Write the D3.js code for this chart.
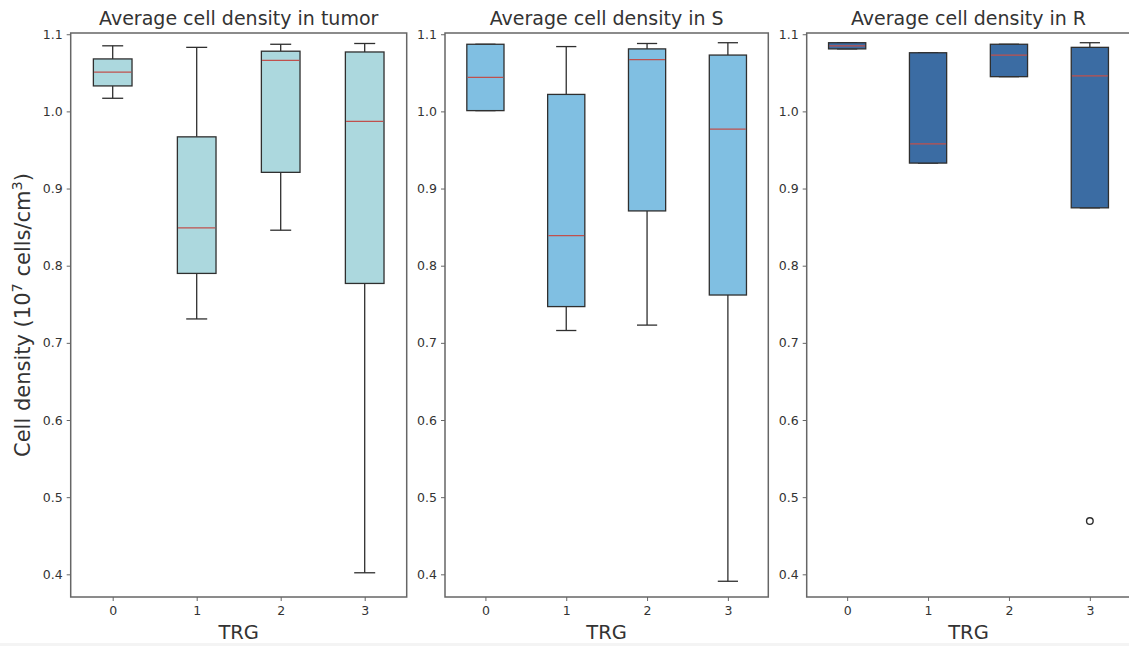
<!DOCTYPE html>
<html>
<head>
<meta charset="utf-8">
<script src="https://cdn.jsdelivr.net/npm/d3@7"></script>
<style>
  html, body { margin: 0; padding: 0; background: #ffffff; }
  svg { display: block; font-family: "DejaVu Sans", sans-serif; }
</style>
</head>
<body>
<svg id="chart" width="1129" height="646"></svg>
<script>
// TRG groups on the x axis
const trgGroups = [0, 1, 2, 3];
const yTicks = [0.4, 0.5, 0.6, 0.7, 0.8, 0.9, 1.0, 1.1];

// Box statistics per TRG group: [lower whisker, Q1, median, Q3, upper whisker]
const tumorStats = [
  [1.017, 1.033, 1.051, 1.068, 1.085],
  [0.731, 0.790, 0.849, 0.967, 1.083],
  [0.846, 0.921, 1.066, 1.078, 1.087],
  [0.402, 0.777, 0.987, 1.077, 1.088]
];
const sStats = [
  [1.001, 1.001, 1.044, 1.087, 1.087],
  [0.716, 0.747, 0.839, 1.022, 1.084],
  [0.723, 0.871, 1.067, 1.081, 1.088],
  [0.391, 0.762, 0.977, 1.073, 1.089]
];
const rStats = [
  [1.081, 1.081, 1.085, 1.089, 1.089],
  [0.933, 0.933, 0.958, 1.076, 1.076],
  [1.045, 1.045, 1.073, 1.087, 1.087],
  [0.875, 0.875, 1.046, 1.083, 1.089]
];
// Points beyond the whiskers: [TRG group, value]
const tumorOutliers = [];
const sOutliers = [];
const rOutliers = [[3, 0.469]];

const panelTitles = [
  "Average cell density in tumor",
  "Average cell density in S",
  "Average cell density in R"
];
const panelFills = ["#acd8de", "#80bfe2", "#3b6ca3"];

const panels = [
  { title: panelTitles[0], stats: tumorStats, outliers: tumorOutliers, fill: panelFills[0], x0: 70.7, x1: 406.7 },
  { title: panelTitles[1], stats: sStats, outliers: sOutliers, fill: panelFills[1], x0: 445, x1: 768.3 },
  { title: panelTitles[2], stats: rStats, outliers: rOutliers, fill: panelFills[2], x0: 806.7, x1: 1130.3 }
];

const plotTop = 33, plotBottom = 597;
const boxWidth = 0.46, capWidth = 0.25;
const edge = "#2f2f2f", spine = "#666666", medianColor = "#c0504d", textColor = "#333333";

const svg = d3.select("#chart");
svg.append("rect").attr("x", 0).attr("y", 643).attr("width", 1129).attr("height", 3).attr("fill", "#f4f4f4");

const y = d3.scaleLinear().domain([0.3706, 1.1016]).range([plotBottom, plotTop]);

panels.forEach(p => {
  const x = d3.scaleLinear().domain([-0.5, 3.5]).range([p.x0, p.x1]);
  const g = svg.append("g");

  // boxes
  p.stats.forEach((s, i) => {
    const [lo, q1, med, q3, hi] = s;
    const cx = x(trgGroups[i]);
    const bw = x(boxWidth) - x(0);
    const cw = x(capWidth) - x(0);
    const w = g.append("g").attr("stroke", edge).attr("stroke-width", 1.3).attr("fill", "none");
    w.append("line").attr("x1", cx).attr("x2", cx).attr("y1", y(q3)).attr("y2", y(hi));
    w.append("line").attr("x1", cx).attr("x2", cx).attr("y1", y(q1)).attr("y2", y(lo));
    w.append("line").attr("x1", cx - cw / 2).attr("x2", cx + cw / 2).attr("y1", y(hi)).attr("y2", y(hi));
    w.append("line").attr("x1", cx - cw / 2).attr("x2", cx + cw / 2).attr("y1", y(lo)).attr("y2", y(lo));
    g.append("rect")
      .attr("x", cx - bw / 2).attr("width", bw)
      .attr("y", y(q3)).attr("height", y(q1) - y(q3))
      .attr("fill", p.fill).attr("stroke", edge).attr("stroke-width", 1.3);
    g.append("line")
      .attr("x1", cx - bw / 2 + 0.7).attr("x2", cx + bw / 2 - 0.7)
      .attr("y1", y(med)).attr("y2", y(med))
      .attr("stroke", medianColor).attr("stroke-width", 1.3);
  });

  // outliers
  g.selectAll("circle.flier").data(p.outliers).enter().append("circle")
    .attr("class", "flier")
    .attr("cx", d => x(d[0])).attr("cy", d => y(d[1])).attr("r", 3.3)
    .attr("fill", "none").attr("stroke", edge).attr("stroke-width", 1.4);

  // axes
  const ya = g.append("g").attr("transform", `translate(${p.x0},0)`)
    .call(d3.axisLeft(y).tickValues(yTicks).tickFormat(d3.format(".1f")).tickSize(4).tickPadding(4));
  const xa = g.append("g").attr("transform", `translate(0,${plotBottom})`)
    .call(d3.axisBottom(x).tickValues(trgGroups).tickFormat(d3.format("d")).tickSize(4).tickPadding(5));
  [ya, xa].forEach(a => {
    a.select(".domain").remove();
    a.selectAll(".tick line").attr("stroke", spine).attr("stroke-width", 1);
    a.selectAll(".tick text").attr("fill", textColor).style("font-size", "12.5px").style("font-family", "DejaVu Sans, sans-serif");
  });

  // frame
  g.append("rect").attr("x", p.x0).attr("y", plotTop).attr("width", p.x1 - p.x0).attr("height", plotBottom - plotTop)
    .attr("fill", "none").attr("stroke", spine).attr("stroke-width", 1.5);

  // title and x label
  g.append("text").attr("x", (p.x0 + p.x1) / 2).attr("y", 25).attr("text-anchor", "middle")
    .attr("fill", textColor).style("font-size", "19px").text(p.title);
  g.append("text").attr("x", (p.x0 + p.x1) / 2).attr("y", 639).attr("text-anchor", "middle")
    .attr("fill", textColor).style("font-size", "19.5px").text("TRG");
});

// shared y label
const yl = svg.append("text")
  .attr("transform", `translate(30,${(plotTop + plotBottom) / 2}) rotate(-90)`)
  .attr("text-anchor", "middle").attr("fill", textColor).style("font-size", "21px");
yl.append("tspan").text("Cell density (10");
yl.append("tspan").attr("dy", -8).style("font-size", "14.5px").text("7");
yl.append("tspan").attr("dy", 8).text(" cells/cm");
yl.append("tspan").attr("dy", -8).style("font-size", "14.5px").text("3");
yl.append("tspan").attr("dy", 8).text(")");
</script>
</body>
</html>
